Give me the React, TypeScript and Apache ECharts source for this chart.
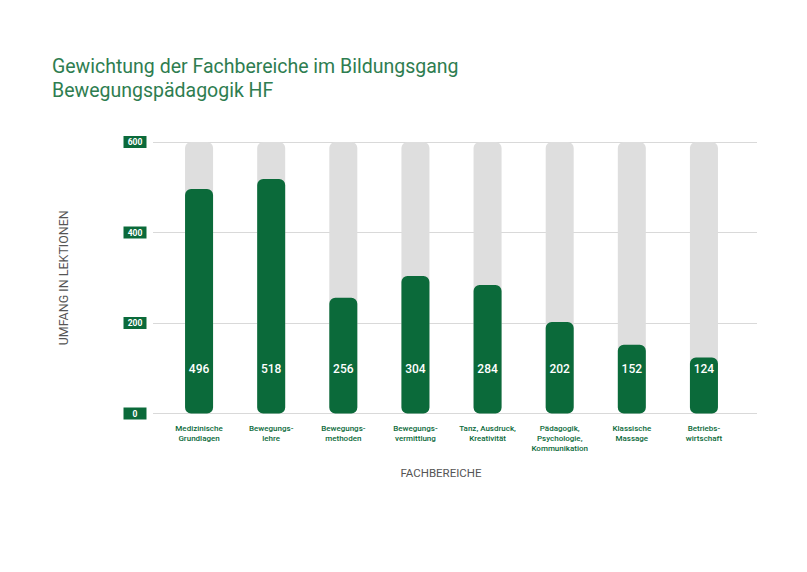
import React, { useEffect, useRef } from "react";
import * as echarts from "echarts";

const categories = [
  "Medizinische\nGrundlagen",
  "Bewegungs-\nlehre",
  "Bewegungs-\nmethoden",
  "Bewegungs-\nvermittlung",
  "Tanz, Ausdruck,\nKreativität",
  "Pädagogik,\nPsychologie,\nKommunikation",
  "Klassische\nMassage",
  "Betriebs-\nwirtschaft",
];
const values = [496, 518, 256, 304, 284, 202, 152, 124];
const titleLines = ["Gewichtung der Fachbereiche im Bildungsgang", "Bewegungspädagogik HF"];
const yAxisName = "UMFANG IN LEKTIONEN";
const xAxisName = "FACHBEREICHE";

const GREEN = "#0b6a3a";
const FONT = "Roboto, 'Noto Sans', sans-serif";

export default function App() {
  const ref = useRef<HTMLDivElement>(null);
  useEffect(() => {
    document.body.style.margin = "0";
    if (!ref.current) return;
    const chart = echarts.init(ref.current, undefined, { renderer: "svg" });
    const top = 142;
    const bottom = 572 - 413.5;
    chart.setOption({
      animation: false,
      backgroundColor: "#ffffff",
      textStyle: { fontFamily: FONT },
      title: {
        text: titleLines.join("\n"),
        left: 47,
        top: 49,
        textStyle: { fontSize: 19.5, lineHeight: 24, color: "#2e7d50", fontWeight: "normal", fontFamily: FONT },
      },
      graphic: [
        {
          type: "text",
          x: 441,
          y: 473,
          style: {
            text: xAxisName,
            fill: "#555",
            fontSize: 11.5,
            fontFamily: FONT,
            align: "center",
            verticalAlign: "middle",
          },
        },
      ],
      grid: [
        { left: 153, right: 50, top, bottom },
        { left: 163, right: 67, top, bottom },
      ],
      xAxis: [
        {
          gridIndex: 0,
          type: "category",
          data: categories,
          show: false,
        },
        {
          gridIndex: 1,
          type: "category",
          data: categories,
          axisLine: { show: false },
          axisTick: { show: false },
          axisLabel: {
            color: GREEN,
            fontSize: 8,
            fontWeight: 500,
            lineHeight: 10,
            margin: 10,
            interval: 0,
            fontFamily: FONT,
          },
        },
      ],
      yAxis: [
        {
          gridIndex: 0,
          type: "value",
          min: 0,
          max: 600,
          interval: 200,
          axisLine: { show: false },
          axisTick: { show: false },
          splitLine: { lineStyle: { color: "#d9d9d9", width: 1 } },
          axisLabel: {
            color: "#ffffff",
            backgroundColor: GREEN,
            fontSize: 8.5,
            fontWeight: "bold",
            width: 23,
            align: "center",
            padding: [2, 0, 1, 0],
            margin: 18,
            fontFamily: FONT,
          },
          name: yAxisName,
          nameLocation: "middle",
          nameRotate: 90,
          nameGap: 83,
          nameTextStyle: { color: "#555", fontSize: 12.5, fontFamily: FONT },
        },
        {
          gridIndex: 1,
          type: "value",
          min: 0,
          max: 600,
          interval: 200,
          show: false,
          splitLine: { show: false },
        },
      ],
      series: [
        {
          type: "bar",
          xAxisIndex: 1,
          yAxisIndex: 1,
          data: values,
          barWidth: 28,
          showBackground: true,
          backgroundStyle: { color: "#dedede", borderRadius: 6 },
          itemStyle: { color: GREEN, borderRadius: 6 },
          label: {
            show: true,
            position: "insideBottom",
            distance: 39,
            color: "#ffffff",
            fontSize: 12,
            fontWeight: 500,
            fontFamily: FONT,
          },
        },
      ],
    });
    return () => chart.dispose();
  }, []);
  return <div ref={ref} style={{ width: 807, height: 572 }} />;
}
